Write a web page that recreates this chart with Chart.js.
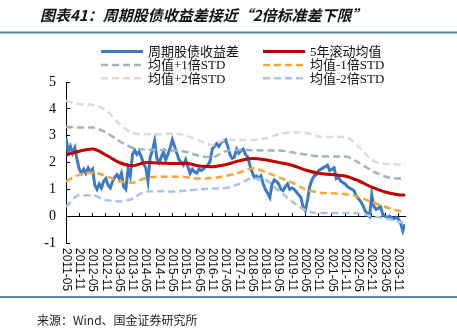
<!DOCTYPE html>
<html lang="zh">
<head>
<meta charset="UTF-8">
<title>周期股债收益差</title>
<script src="https://cdn.jsdelivr.net/npm/chart.js@4.4.1/dist/chart.umd.min.js"></script>
<style>
  html, body { margin: 0; padding: 0; background: #fff; }
  #wrap { position: relative; width: 457px; height: 335px; }
</style>
</head>
<body>
<div id="wrap"><canvas id="chart" width="457" height="335"></canvas></div>
<script>
// half-year tick labels on the x axis
const tickLabels = ['2011-05', '2011-11', '2012-05', '2012-11', '2013-05', '2013-11', '2014-05', '2014-11',
    '2015-05', '2015-11', '2016-05', '2016-11', '2017-05', '2017-11', '2018-05', '2018-11', '2019-05',
    '2019-11', '2020-05', '2020-11', '2021-05', '2021-11', '2022-05', '2022-11', '2023-05', '2023-11'];

// monthly spread, starting 2011-05
const spreadStart = '2011-05';
const spread = [
    2.9, 2.4, 2.6, 2.35, 2.55, 2.1, 1.75, 1.6, 1.75, 1.6, 1.8, 1.65,
    1.75, 1.15, 1.0, 1.2, 1.05, 1.3, 1.4, 1.15, 1.05, 1.3, 1.45, 1.55,
    1.4, 1.6, 1.1, 1.0, 1.75, 1.5, 2.3, 2.45, 2.3, 2.4, 2.2, 1.95,
    1.8, 1.3, 2.2, 2.45, 2.8, 2.15, 2.0, 2.2, 2.4, 2.1, 2.3, 2.55,
    2.85, 2.6, 2.35, 2.1, 2.0, 1.9, 2.1, 1.85, 1.6, 1.75, 1.65, 1.6,
    1.75, 1.7, 1.75, 1.85, 1.9, 2.05, 2.5, 2.6, 2.7, 2.6, 2.75, 2.8,
    2.85, 2.6, 2.3, 2.15, 2.2, 2.5, 2.35, 2.45, 2.5, 2.3, 2.2, 1.9,
    1.65, 1.45, 1.5, 1.4, 1.5, 1.2, 1.0, 0.85, 0.7, 1.2, 1.35, 1.3,
    1.2, 1.0, 0.95, 1.1, 1.2, 1.0, 1.05, 1.0, 0.9, 0.8, 0.7, 0.35,
    0.2, 0.6, 1.1, 1.35, 1.5, 1.55, 1.7, 1.75, 1.8, 1.85, 1.9, 1.7,
    1.75, 1.8, 1.4, 1.45, 1.3, 1.25, 1.2, 1.1, 1.05, 1.0, 0.95, 0.75,
    0.65, 0.55, 0.4, 0.2, 0.1, 0.0, 0.8, 0.35, 0.25, 0.3, 0.35, 0.05,
    0.0, -0.05, 0.0, -0.05, -0.1, -0.05, -0.1, -0.25, -0.55, -0.3
];

// rolling 5y mean and std bands, read every half year
const bandDates = [...tickLabels, '2024-02'];
const rollingMean = [2.28, 2.42, 2.5, 2.28, 2.0, 1.88, 2.0, 1.98, 1.96, 1.97, 1.87, 1.84, 1.92,
    2.06, 2.15, 2.1, 2.0, 1.9, 1.72, 1.6, 1.55, 1.5, 1.32, 1.08, 0.9, 0.8, 0.78];
const plus1Std = [3.33, 3.3, 3.3, 3.12, 2.8, 2.55, 2.48, 2.47, 2.45, 2.4, 2.25, 2.2, 2.42,
    2.47, 2.46, 2.45, 2.45, 2.38, 2.3, 2.23, 2.22, 2.22, 2.0, 1.7, 1.48, 1.4, 1.4];
const minus1Std = [1.3, 1.55, 1.62, 1.5, 1.3, 1.25, 1.42, 1.47, 1.47, 1.45, 1.4, 1.42, 1.5,
    1.62, 1.78, 1.65, 1.45, 1.25, 1.0, 0.88, 0.85, 0.82, 0.72, 0.52, 0.35, 0.2, 0.15];
const plus2Std = [4.3, 4.18, 4.15, 3.95, 3.45, 3.1, 3.05, 3.05, 3.08, 3.0, 2.82, 2.65, 2.85,
    2.85, 2.83, 2.9, 3.05, 3.12, 3.1, 2.97, 2.95, 2.95, 2.6, 2.1, 1.95, 1.93, 1.93];
const minus2Std = [0.35, 0.78, 0.78, 0.6, 0.55, 0.65, 0.92, 0.93, 0.92, 0.95, 1.0, 1.03, 1.05,
    1.2, 1.4, 1.35, 0.95, 0.55, 0.22, 0.12, 0.12, 0.12, 0.1, 0.0, -0.08, -0.2, -0.25];

function monthIndex(s) {
    const [y, m] = s.split('-').map(Number);
    const [y0, m0] = spreadStart.split('-').map(Number);
    return (y - y0) * 12 + (m - m0);
}
function bandPoints(values) {
    return values.map((v, i) => ({ x: monthIndex(bandDates[i]), y: v }));
}

const serif = '"Liberation Serif", "Noto Sans CJK SC", serif';

// title, rules, legend, rotated date labels, source
const decorPlugin = {
    id: 'decor',
    afterDraw(chart) {
        const ctx = chart.ctx;
        ctx.save();
        // title
        ctx.fillStyle = '#111';
        ctx.font = 'italic 600 15px "Noto Sans CJK SC"';
        ctx.textBaseline = 'middle';
        ctx.textAlign = 'left';
        ctx.fillText('图表41：周期股债收益差接近“2倍标准差下限”', 40, 15);
        // rules
        ctx.fillStyle = '#5a84a8';
        ctx.fillRect(0, 31.5, 457, 2);
        ctx.fillRect(0, 296, 457, 2);
        // legend
        ctx.font = '13px ' + serif;
        chart.data.datasets.forEach((ds, i) => {
            const col = i % 2, row = Math.floor(i / 2);
            const lx = col === 0 ? 101 : 263;
            const ly = 51.5 + row * 13.4;
            ctx.strokeStyle = ds.borderColor;
            ctx.lineWidth = ds.borderWidth;
            ctx.setLineDash(ds.borderDash || []);
            ctx.beginPath();
            ctx.moveTo(lx, ly);
            ctx.lineTo(lx + 42, ly);
            ctx.stroke();
            ctx.setLineDash([]);
            ctx.fillStyle = '#111';
            ctx.fillText(ds.label, lx + 47, ly + 1);
        });
        // x labels, rotated clockwise
        const xs = chart.scales.x;
        ctx.font = '12px "Liberation Sans", Arial, sans-serif';
        ctx.fillStyle = '#111';
        xs.ticks.forEach((t, i) => {
            const px = xs.getPixelForValue(t.value);
            ctx.save();
            ctx.translate(px, 248);
            ctx.rotate(Math.PI / 2);
            ctx.textAlign = 'left';
            ctx.textBaseline = 'middle';
            ctx.fillText(tickLabels[i], 0, 0);
            ctx.restore();
        });
        // source
        ctx.font = '12px "Noto Sans CJK SC"';
        ctx.fillStyle = '#222';
        ctx.textAlign = 'left';
        ctx.textBaseline = 'middle';
        ctx.fillText('来源：Wind、国金证券研究所', 37, 320);
        ctx.restore();
    }
};

new Chart(document.getElementById('chart'), {
    type: 'line',
    data: {
        datasets: [{
            label: '周期股债收益差',
            data: spread.map((v, i) => ({ x: i, y: v })),
            borderColor: '#3a7acb',
            borderWidth: 3,
            tension: 0,
            order: 6
        }, {
            label: '5年滚动均值',
            data: bandPoints(rollingMean),
            borderColor: '#c00000',
            borderWidth: 3,
            cubicInterpolationMode: 'monotone',
            order: 5
        }, {
            label: '均值+1倍STD',
            data: bandPoints(plus1Std),
            borderColor: '#9fb4c4',
            borderWidth: 2.5,
            borderDash: [7, 4],
            cubicInterpolationMode: 'monotone',
            order: 4
        }, {
            label: '均值-1倍STD',
            data: bandPoints(minus1Std),
            borderColor: '#f8a634',
            borderWidth: 2.5,
            borderDash: [7, 4],
            cubicInterpolationMode: 'monotone',
            order: 3
        }, {
            label: '均值+2倍STD',
            data: bandPoints(plus2Std),
            borderColor: '#dcdcdc',
            borderWidth: 2.5,
            borderDash: [7, 4],
            cubicInterpolationMode: 'monotone',
            order: 2
        }, {
            label: '均值-2倍STD',
            data: bandPoints(minus2Std),
            borderColor: '#a8c3ec',
            borderWidth: 2.5,
            borderDash: [7, 4],
            cubicInterpolationMode: 'monotone',
            order: 1
        }]
    },
    options: {
        responsive: false,
        animation: false,
        devicePixelRatio: 1,
        elements: { point: { radius: 0 } },
        layout: { padding: { left: 26, right: 52, top: 82, bottom: 92 } },
        plugins: { legend: { display: false }, tooltip: { enabled: false } },
        scales: {
            x: {
                type: 'linear',
                position: { y: 0 },
                min: 0,
                max: monthIndex('2024-02'),
                afterBuildTicks: s => { s.ticks = tickLabels.map(l => ({ value: monthIndex(l) })); },
                ticks: { display: false },
                grid: { drawOnChartArea: false, tickLength: -4, color: '#000', lineWidth: 1 },
                border: { color: '#000', width: 1 }
            },
            y: {
                min: -1,
                max: 5,
                afterFit: s => { s.width = 40; },
                ticks: { stepSize: 1, padding: 14, color: '#000', font: { family: serif, size: 14 } },
                grid: { drawOnChartArea: false, tickLength: -4, color: '#000', lineWidth: 1 },
                border: { color: '#000', width: 1 }
            }
        }
    },
    plugins: [decorPlugin]
});
</script>
</body>
</html>
